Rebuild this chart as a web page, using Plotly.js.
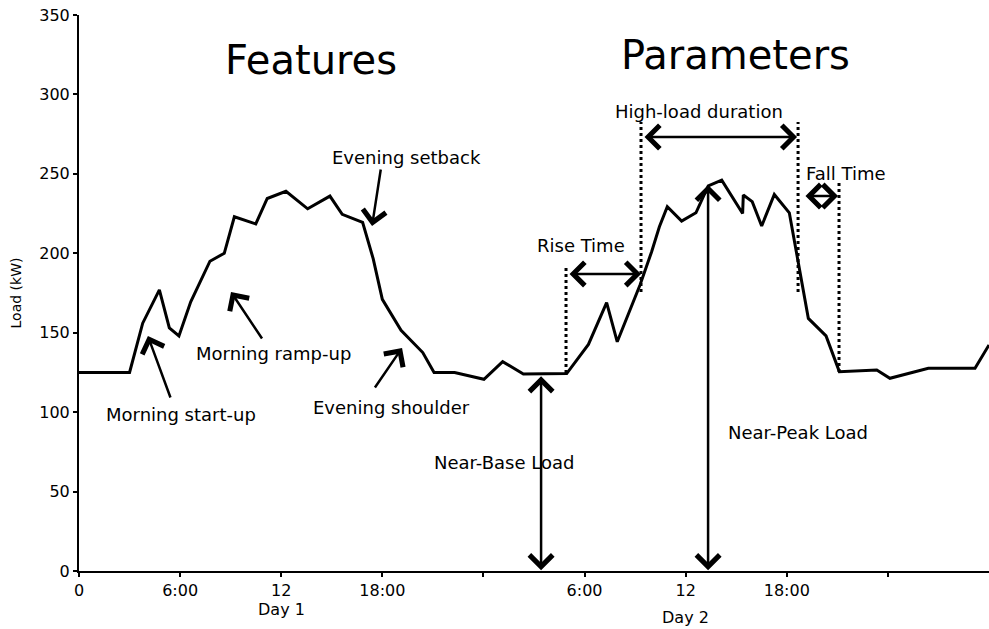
<!DOCTYPE html>
<html>
<head>
<meta charset="utf-8">
<script src="https://cdn.plot.ly/plotly-3.0.1.min.js"></script>
<style>html,body{margin:0;padding:0;background:#fff;}#chart{width:989px;height:629px;}</style>
</head>
<body>
<div id="chart"></div>
<script>
// Hours since start of Day 1
var hours = [0, 3.0, 3.78, 4.77, 5.36, 5.93, 6.63, 7.77, 8.62, 9.22, 10.49, 11.17, 12.28, 13.57, 14.89, 15.62, 16.83, 17.46, 18.0, 19.11, 20.40, 21.07, 22.29, 24.03, 25.14, 26.37, 28.94, 30.23, 31.31, 31.94, 33.29, 33.98, 34.44, 34.91, 35.76, 36.61, 37.34, 38.14, 39.38, 39.42, 39.95, 40.51, 41.26, 42.15, 43.28, 44.33, 45.12, 47.34, 48.12, 50.40, 53.17, 54];
// Load in kW
var load = [125, 125, 156, 177, 153, 148, 169.5, 195, 200, 223, 218.5, 234.5, 239, 228, 236, 224.5, 219.5, 196.5, 171, 151.5, 137.5, 125, 125, 120.7, 131.8, 124, 124.3, 142.6, 169, 144.3, 180, 201, 216.7, 229.3, 220.3, 225.5, 242.4, 246, 225, 236.7, 232.5, 217.2, 237, 225.5, 159, 148, 125.5, 126.5, 121.3, 127.6, 127.6, 142.3];

var tickVals = [0, 6, 12, 18, 24, 30, 36, 42, 48];
var tickText = ['0', '6:00', '12', '18:00', '', '6:00', '12', '18:00', ''];

var FONT = 'DejaVu Sans, Verdana, sans-serif';

var trace = {
  x: hours, y: load, type: 'scatter', mode: 'lines',
  line: {color: '#000', width: 3}, hoverinfo: 'skip'
};

function label(t, x, y, size) {
  return {text: t, x: x, y: y, xref: 'x', yref: 'y', showarrow: false,
          font: {family: FONT, size: size || 18, color: '#000'}, xanchor: 'center', yanchor: 'middle'};
}
function arrow(x, y, ax, ay, both) {
  var a = {text: '', x: x, y: y, ax: ax, ay: ay, xref: 'x', yref: 'y', axref: 'x', ayref: 'y',
           showarrow: true, arrowhead: 4, arrowsize: 1.8, arrowwidth: 2.5, arrowcolor: '#000',
           standoff: 0, startstandoff: 0};
  if (both) { a.arrowside = 'end+start'; a.startarrowhead = 4; a.startarrowsize = 1.8; }
  return a;
}
function dotted(x, y0, y1) {
  return {type: 'line', xref: 'x', yref: 'y', x0: x, x1: x, y0: y0, y1: y1,
          line: {color: '#000', width: 3, dash: 'dot'}};
}

var annotations = [
  label('Features', 13.77, 321.7, 40),
  label('Parameters', 38.93, 324.8, 40),
  label('Evening setback', 19.46, 260),
  label('High-load duration', 36.79, 289),
  label('Fall Time', 45.51, 250),
  label('Rise Time', 29.79, 205),
  label('Morning ramp-up', 11.57, 137.2),
  label('Evening shoulder', 18.54, 103.2),
  label('Morning start-up', 6.05, 98.8),
  label('Near-Base Load', 25.22, 68.6),
  label('Near-Peak Load', 42.64, 87.5),
  {text: 'Day 1', x: 12, y: -0.069, xref: 'x', yref: 'paper', showarrow: false, yanchor: 'middle',
   borderpad: 0, font: {family: FONT, size: 16, color: '#000'}},
  {text: 'Day 2', x: 36, y: -0.083, xref: 'x', yref: 'paper', showarrow: false, yanchor: 'middle',
   borderpad: 0, font: {family: FONT, size: 16, color: '#000'}},
  arrow(4.09, 147.9, 5.46, 108.3),
  arrow(9.02, 175.6, 10.92, 145.4),
  arrow(17.39, 217.2, 17.92, 253.7),
  arrow(19.17, 140.4, 17.5, 114.6),
  arrow(27.42, 0.5, 27.42, 123.5, true),
  arrow(37.33, 0.5, 37.33, 244, true),
  arrow(33.35, 187, 29.02, 187, true),
  arrow(42.61, 273.2, 33.47, 273.2, true),
  arrow(45.04, 236, 43.02, 236, true)
];

var shapes = [
  dotted(28.9, 124.6, 190.7),
  dotted(33.35, 175.6, 282.6),
  dotted(42.67, 175.6, 282.6),
  dotted(45.1, 125.3, 244.9)
];

var layout = {
  width: 989, height: 629,
  margin: {l: 79, r: 0, t: 15, b: 58, pad: 0},
  paper_bgcolor: '#fff', plot_bgcolor: '#fff',
  showlegend: false,
  font: {family: FONT, size: 16, color: '#000'},
  xaxis: {
    range: [0, 54], tickmode: 'array', tickvals: tickVals, ticktext: tickText,
    showline: true, linecolor: '#000', linewidth: 2, mirror: false,
    ticks: 'outside', ticklen: 4, tickwidth: 2, tickcolor: '#000',
    showgrid: false, zeroline: false, fixedrange: true,
    tickfont: {family: FONT, size: 16, color: '#000'}
  },
  yaxis: {
    range: [0, 350], dtick: 50, tick0: 0,
    showline: true, linecolor: '#000', linewidth: 2,
    ticks: 'outside', ticklen: 4, tickwidth: 2, tickcolor: '#000',
    showgrid: false, zeroline: false, fixedrange: true,
    tickfont: {family: FONT, size: 16, color: '#000'},
    title: {text: 'Load (kW)', font: {family: FONT, size: 14, color: '#000'}, standoff: 14}
  },
  annotations: annotations,
  shapes: shapes
};

Plotly.newPlot('chart', [trace], layout, {displayModeBar: false, staticPlot: true});
</script>
</body>
</html>
